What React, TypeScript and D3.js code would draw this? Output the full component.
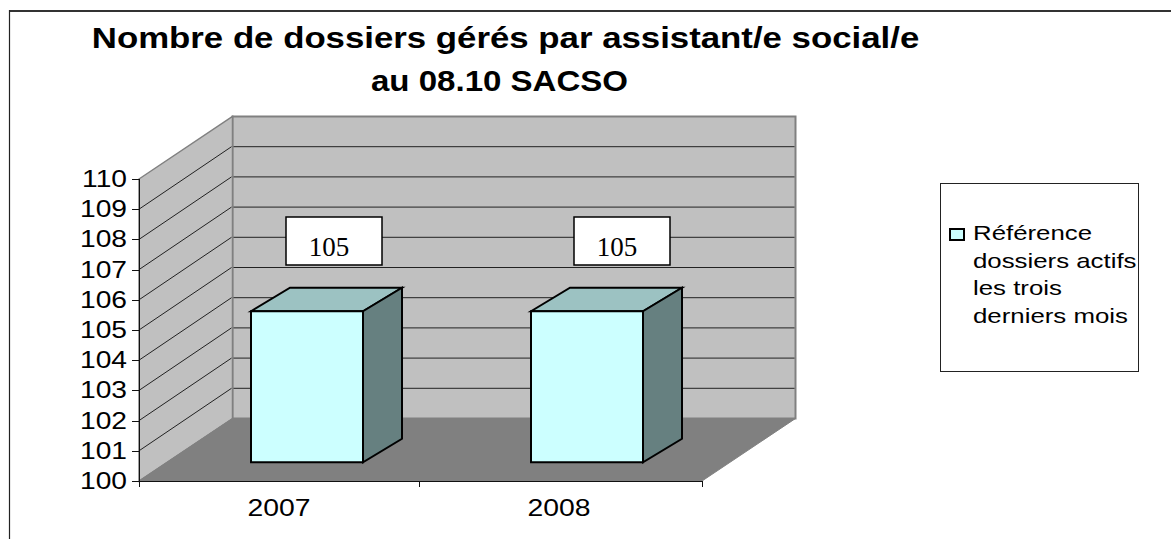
import React from "react";
import * as d3 from "d3";

const categories = ["2007", "2008"];
const barValues = [105, 105];
const tickValues = [100, 101, 102, 103, 104, 105, 106, 107, 108, 109, 110];
const titleLines = ["Nombre de dossiers gérés par assistant/e social/e", "au 08.10 SACSO"];
const legendLines = ["Référence", "dossiers actifs", "les trois", "derniers mois"];

const W = 1171, H = 539;
const x0 = 139, x1 = 702;
const depthX = 93.5, depthY = -62.5;
const sans = "'Liberation Sans', Arial, sans-serif";
const serif = "'Liberation Serif', 'Times New Roman', serif";
const pts = (a: number[][]) => a.map((p) => p.join(",")).join(" ");

function Stretched({ x, y, sx, anchor, children }: { x: number; y: number; sx: number; anchor?: string; children: React.ReactNode }) {
  return (
    <text transform={`translate(${x},${y}) scale(${sx},1)`} textAnchor={anchor}>
      {children}
    </text>
  );
}

export default function App() {
  const y = d3.scaleLinear().domain([100, 110]).range([481, 179]);
  const band = d3.scaleBand().domain(categories).range([x0, 699]);
  const labelX = d3.scaleLinear().domain([0, 1]).range([286, 574]);
  const yTop = y(110), yBot = y(100);
  const barInset = 0.3;
  const offY = depthY * barInset;
  const barDX = 39, barDY = -23.5;
  const barW = band.bandwidth() * 0.4;

  return (
    <svg width={W} height={H} style={{ position: "absolute", left: 0, top: 0, background: "#fff" }}>
      <line x1={9} y1={11} x2={W} y2={11} stroke="#333" strokeWidth={2} />
      <line x1={9.5} y1={10} x2={9.5} y2={H} stroke="#222" strokeWidth={1.2} />
      <g fontFamily={sans} fontWeight="bold" fontSize={29} fill="#000">
        <Stretched x={505.5} y={48} sx={1.2} anchor="middle">{titleLines[0]}</Stretched>
        <Stretched x={499.5} y={91} sx={1.14} anchor="middle">{titleLines[1]}</Stretched>
      </g>

      {/* walls */}
      <polygon points={pts([[x0 + depthX, yTop + depthY], [x1 + depthX, yTop + depthY], [x1 + depthX, yBot + depthY], [x0 + depthX, yBot + depthY]])} fill="#c0c0c0" stroke="#808080" strokeWidth={2} />
      <polygon points={pts([[x0, yTop], [x0 + depthX, yTop + depthY], [x0 + depthX, yBot + depthY], [x0, yBot]])} fill="#c0c0c0" stroke="#808080" strokeWidth={1.5} />
      <polygon points={pts([[x0, yBot], [x1, yBot], [x1 + depthX, yBot + depthY], [x0 + depthX, yBot + depthY]])} fill="#808080" stroke="#808080" strokeWidth={1} />

      {/* gridlines */}
      {tickValues.slice(1, -1).map((v) => (
        <g key={v} stroke="#222" strokeWidth={1} fill="none">
          <line x1={x0} y1={y(v)} x2={x0 + depthX - 1} y2={y(v) + depthY} />
          <line x1={x0 + depthX + 1} y1={y(v) + depthY} x2={x1 + depthX - 1} y2={y(v) + depthY} />
        </g>
      ))}

      {/* axes */}
      <g stroke="#111" strokeWidth={1}>
        <line x1={x0 + 0.5} y1={yTop} x2={x0 + 0.5} y2={yBot + 6} />
        <line x1={x0 - 7} y1={yBot + 0.5} x2={x1} y2={yBot + 0.5} />
        {tickValues.map((v) => (
          <line key={v} x1={x0 - 7} y1={Math.round(y(v)) + 0.5} x2={x0} y2={Math.round(y(v)) + 0.5} />
        ))}
        {[x0, band(categories[1]) as number, x1].map((x) => (
          <line key={x} x1={x + 0.5} y1={yBot} x2={x + 0.5} y2={yBot + 6} />
        ))}
      </g>
      <g fontFamily={sans} fontSize={24} fill="#000">
        {tickValues.map((v) => (
          <Stretched key={v} x={127} y={y(v) + 8} sx={1.175} anchor="end">{v}</Stretched>
        ))}
      </g>
      <g fontFamily={sans} fontSize={24} fill="#000">
        {categories.map((c) => (
          <Stretched key={c} x={(band(c) as number) + band.bandwidth() / 2} y={516} sx={1.18} anchor="middle">{c}</Stretched>
        ))}
      </g>

      {/* bars */}
      {categories.map((c, i) => {
        const bl = (band(c) as number) + band.bandwidth() * 0.4;
        const br = bl + barW;
        const top = y(barValues[i]) + offY;
        const bot = yBot + offY;
        const lbl = labelX(i);
        return (
          <g key={c} stroke="#000" strokeWidth={2} strokeLinejoin="miter">
            <polygon points={pts([[bl, top], [bl + barDX, top + barDY], [br + barDX, top + barDY], [br, top]])} fill="#9cc2c2" />
            <polygon points={pts([[br, top], [br + barDX, top + barDY], [br + barDX, bot + barDY], [br, bot]])} fill="#668080" />
            <rect x={bl} y={top} width={barW} height={bot - top} fill="#ccffff" />
            <rect x={lbl} y={217} width={96} height={48} fill="#fff" strokeWidth={1.5} />
            <text x={lbl + 43} y={256} fontFamily={serif} fontSize={27} textAnchor="middle" stroke="none" fill="#000">{barValues[i]}</text>
          </g>
        );
      })}

      {/* legend */}
      <rect x={940.5} y={183.5} width={198} height={188} fill="#fff" stroke="#222" strokeWidth={1} />
      <rect x={950} y={229} width={14} height={11} fill="#ccffff" stroke="#000" strokeWidth={2} />
      <g fontFamily={sans} fontSize={20.5} fill="#000">
        {legendLines.map((t, i) => (
          <Stretched key={t} x={973} y={240 + i * 27.5} sx={1.26}>{t}</Stretched>
        ))}
      </g>
    </svg>
  );
}
